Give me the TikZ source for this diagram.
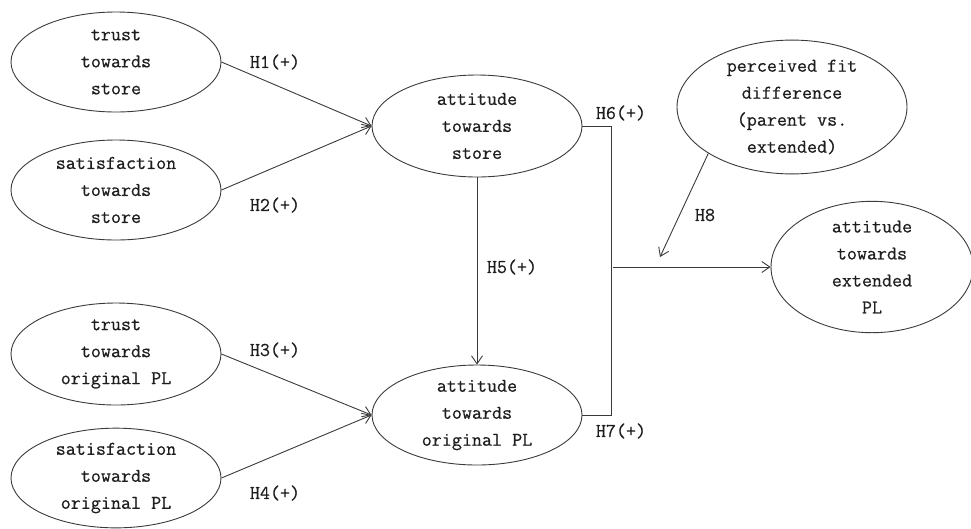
\documentclass[tikz,border=0pt]{standalone}
\usepackage{fontspec}
\setmainfont{Latin Modern Mono}[FakeBold=0.6]
\usetikzlibrary{shapes.geometric,arrows.meta}
\definecolor{ink}{HTML}{3A3A3A}
\definecolor{txt}{HTML}{1E1E1E}
\tikzset{
  construct/.style={ellipse, draw=ink, line width=0.9pt, inner sep=0pt,
    minimum width=#1, align=center, text=txt,
    font=\fontsize{19.5}{27}\bfseries\selectfont},
  construct/.default=210pt,
  link/.style={draw=ink, line width=0.9pt,
    -{Straight Barb[length=8pt,width=11pt,line width=0.9pt]}},
  bracket/.style={draw=ink, line width=0.9pt},
  hyp/.style={text=txt, font=\fontsize{19.5}{20}\bfseries\selectfont, inner sep=1pt}
}
\begin{document}
\begin{tikzpicture}[x=1pt,y=-1pt]
\useasboundingbox (0,0) rectangle (971,528);

% antecedent constructs
\node[construct, minimum height=100pt] (ts) at (116,62) {trust\\towards\\store};
\node[construct, minimum height=100pt] (ss) at (116,190) {satisfaction\\towards\\store};
\node[construct, minimum height=102pt] (tp) at (116,354) {trust\\towards\\original PL};
\node[construct, minimum height=98pt]  (sp) at (116,478) {satisfaction\\towards\\original PL};

% attitudes
\node[construct, minimum height=102pt] (as) at (477,126) {attitude\\towards\\store};
\node[construct, minimum height=100pt] (ao) at (477,415) {attitude\\towards\\original PL};

% moderator and outcome
\node[construct=230pt, minimum height=120pt] (pf) at (792,107) {perceived fit\\difference\\(parent vs.\\extended)};
\node[construct=202pt, minimum height=102pt] (ext) at (872,267) {attitude\\towards\\extended\\PL};

% paths
\draw[link] (ts.east) -- (as.west);
\draw[link] (ss.east) -- (as.west);
\draw[link] (tp.east) -- (ao.west);
\draw[link] (sp.east) -- (ao.west);
\draw[link] (as.south) -- (ao.north);

% joint path from both attitudes to the extension
\draw[bracket] (as.east) -- ++(29,0) coordinate (br) |- (ao.east);
\coordinate (junc) at (613,267);
\draw[link] (junc) -- (ext.west);

% moderation
\coordinate (mod) at (660,257);
\draw[link] (pf.209) -- (mod);

% hypothesis labels
\node[hyp] (h1) at (275,62) {H1(+)};
\node[hyp] (h2) at (275,205) {H2(+)};
\node[hyp] (h3) at (275,350) {H3(+)};
\node[hyp] (h4) at (275,493) {H4(+)};
\node[hyp] (h5) at (512,267) {H5(+)};
\node[hyp] (h6) at (621,113) {H6(+)};
\node[hyp] (h7) at (621,431) {H7(+)};
\node[hyp] (h8) at (705,215) {H8};
\end{tikzpicture}
\end{document}
